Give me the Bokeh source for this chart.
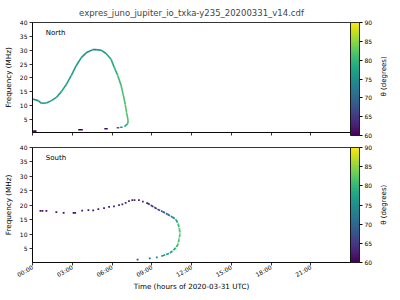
import math
from bokeh.plotting import figure
from bokeh.models import (ColumnDataSource, LinearColorMapper, ColorBar, FixedTicker,
                          Label, LinearAxis, Range1d)
from bokeh.transform import transform
from bokeh.palettes import Viridis256
from bokeh.layouts import column
from bokeh.embed import file_html
from bokeh.resources import INLINE

title_text = "expres_juno_jupiter_io_txka-y235_20200331_v14.cdf"
xtick_hours = [0, 3, 6, 9, 12, 15, 18, 21]
xtick_labels = ["00:00", "03:00", "06:00", "09:00", "12:00", "15:00", "18:00", "21:00"]
ytick_values = [5, 10, 15, 20, 25, 30, 35, 40]
theta_ticks = [60, 65, 70, 75, 80, 85, 90]
theta_label = "θ (degrees)"

# North hemisphere: main arc (hours, MHz, theta deg)
north_t = [0.0, 0.43, 0.68, 1.05, 1.43, 1.8, 2.18, 2.55, 2.93, 3.3, 3.68, 4.05, 4.55, 4.8,
           5.18, 5.55, 5.93, 6.17, 6.43, 6.68, 6.85, 7.0, 7.1, 7.22, 7.18, 6.93]
north_f = [12.4, 11.8, 10.85, 10.95, 11.8, 12.95, 15.05, 17.6, 20.9, 24.4, 27.3, 29.05, 30.2, 30.2,
           30.0, 28.8, 26.7, 23.8, 20.9, 17.4, 13.9, 10.4, 7.45, 4.55, 3.4, 2.45]
north_theta = [75, 75, 75, 76, 76, 76, 77, 77, 77, 77, 76, 75, 74, 74,
               75, 77, 78, 79, 80, 81, 81, 82, 82, 82, 80, 77]
# North: short low-frequency dashes
north_dash_t0 = [0.05, 3.45, 5.42, 6.35, 6.62]
north_dash_t1 = [0.3, 3.8, 5.68, 6.55, 6.8]
north_dash_f = [0.8, 1.3, 1.65, 2.0, 2.2]
north_dash_theta = [60, 60, 61, 69, 74]

# South hemisphere: sparse dots
south_dot_t = [0.6, 0.75, 1.05, 1.8, 2.35, 3.1, 3.22, 3.75, 4.22, 4.58, 4.97, 5.4, 5.78, 6.15,
               6.53, 6.78, 7.03, 7.28, 7.53, 7.7, 8.03, 8.33, 8.65, 7.93, 8.85, 9.38]
south_dot_f = [18.1, 18.1, 18.1, 17.7, 17.4, 17.4, 17.4, 18.2, 18.4, 18.3, 18.7, 19.1, 19.5, 19.7,
               20.1, 20.4, 20.9, 21.5, 21.8, 21.8, 21.8, 21.3, 20.8, 1.3, 1.7, 2.1]
south_dot_theta = [61, 61, 61, 61, 61, 61, 61, 62, 62, 62, 62, 62, 62, 63,
                   63, 63, 63, 63, 63, 63, 63, 64, 64, 66, 70, 73]
# South: denser arc
south_t = [8.65, 8.93, 9.18, 9.43, 9.8, 10.18, 10.55, 10.85, 11.0, 11.1, 11.13, 11.05, 10.98,
           10.8, 10.55, 10.3, 9.93, 9.68]
south_f = [20.8, 20.1, 19.4, 18.7, 17.9, 17.0, 16.0, 15.0, 13.5, 11.7, 10.0, 8.25, 6.5,
           5.3, 4.2, 3.4, 2.8, 2.4]
south_theta = [64, 64, 65, 66, 68, 70, 73, 77, 80, 81, 82, 82, 81, 80, 78, 77, 76, 75]

FONT = "DejaVu Sans"
mapper = LinearColorMapper(palette=Viridis256, low=60, high=90)


def seg_source(t, f, th):
    return ColumnDataSource(dict(x0=t[:-1], x1=t[1:], y0=f[:-1], y1=f[1:],
                                 theta=[(a + b) / 2 for a, b in zip(th[:-1], th[1:])]))


def make_fig(height, top, bottom, frame_h, show_xlabels, name, label_start):
    p = figure(width=400, height=height, output_backend="svg", toolbar_location=None,
               x_range=Range1d(0, 24), y_range=Range1d(0.3, 40),
               min_border_left=31, min_border_right=50, min_border_top=top,
               min_border_bottom=bottom)
    p.grid.visible = False
    p.outline_line_color = "black"
    p.outline_line_width = 0.8
    for ax in (p.xaxis, p.yaxis):
        ax.major_tick_in = 0
        ax.major_tick_out = 3
        ax.minor_tick_line_color = None
        ax.axis_line_color = "black"
        ax.axis_line_width = 0.8
        ax.major_tick_line_width = 0.8
        ax.major_label_text_font = FONT
        ax.major_label_text_font_size = "6px"
        ax.major_label_text_color = "black"
        ax.axis_label_text_font = FONT
        ax.axis_label_text_font_size = "7.2px"
        ax.axis_label_text_font_style = "normal"
        ax.axis_label_text_color = "black"
    p.xaxis.ticker = FixedTicker(ticks=xtick_hours)
    p.yaxis.ticker = FixedTicker(ticks=ytick_values)
    p.yaxis.axis_label = "Frequency (MHz)"
    p.yaxis.major_label_standoff = 2
    p.yaxis.axis_label_standoff = 4
    if show_xlabels:
        p.xaxis.major_label_overrides = {h: l for h, l in zip(xtick_hours, xtick_labels)}
        p.xaxis.major_label_orientation = math.pi / 6
        p.xaxis.major_label_standoff = 1
        p.xaxis.axis_label = "Time (hours of 2020-03-31 UTC)"
        p.xaxis.axis_label_standoff = -2
    else:
        p.xaxis.major_label_overrides = {h: "" for h in xtick_hours}
        p.xaxis.major_label_standoff = 0
    cb = ColorBar(color_mapper=mapper, ticker=FixedTicker(ticks=theta_ticks), width=9,
                  height=frame_h, padding=0, margin=10, label_standoff=2,
                  major_tick_in=0, major_tick_out=3, major_tick_line_color="black",
                  bar_line_color="black", bar_line_width=0.8,
                  major_label_text_font=FONT, major_label_text_font_size="6px",
                  major_label_text_color="black")
    p.add_layout(cb, "right")
    lab_ax = LinearAxis(ticker=FixedTicker(ticks=[label_start]),
                        major_label_overrides={label_start: theta_label},
                        major_label_orientation=math.pi / 2, major_label_standoff=3,
                        major_label_text_font=FONT, major_label_text_font_size="7px",
                        major_label_text_color="black",
                        axis_line_color=None, major_tick_line_color=None,
                        minor_tick_line_color=None)
    p.add_layout(lab_ax, "right")
    p.add_layout(Label(x=1.0, y=36.3, text=name, text_font=FONT, text_font_size="7px",
                       text_baseline="middle", text_color="black"))
    return p


p1 = make_fig(140, 19, 8, 113, False, "North", 13.3)
p1.title.text = title_text
p1.title.align = "center"
p1.title.text_font = FONT
p1.title.text_font_size = "8.5px"
p1.title.text_font_style = "normal"
p1.title.offset = 10

p1.segment("x0", "y0", "x1", "y1", source=seg_source(north_t, north_f, north_theta),
           line_width=1.6, line_color=transform("theta", mapper))
p1.segment("t0", "f", "t1", "f",
           source=ColumnDataSource(dict(t0=north_dash_t0, t1=north_dash_t1, f=north_dash_f,
                                        theta=north_dash_theta)),
           line_width=1.6, line_color=transform("theta", mapper))

p2 = make_fig(160, 7, 38, 115, True, "South", 13.3)
p2.scatter("t", "f", source=ColumnDataSource(dict(t=south_dot_t, f=south_dot_f,
                                                  theta=south_dot_theta)),
           marker="square", size=1.8, line_color=None,
           fill_color=transform("theta", mapper))
p2.segment("x0", "y0", "x1", "y1", source=seg_source(south_t, south_f, south_theta),
           line_width=1.8, line_color=transform("theta", mapper), line_dash="3 1")

layout = column(p1, p2, spacing=0)
open("out.html", "w").write(file_html(layout, INLINE))
